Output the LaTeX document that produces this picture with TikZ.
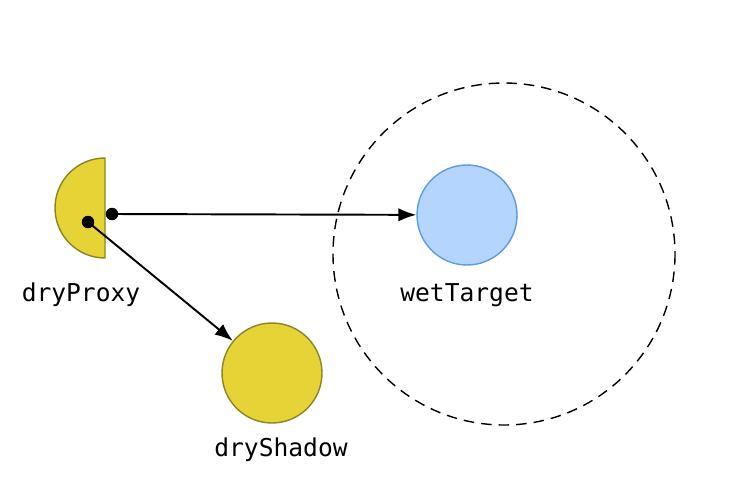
\documentclass[tikz,border=0pt]{standalone}
\usepackage{fontspec}
\setmonofont{DejaVu Sans Mono}
\usepackage{xcolor}
\usepackage{tikz}
\usetikzlibrary{positioning,arrows.meta}

\definecolor{dryfill}{HTML}{E6D335}
\definecolor{dryline}{HTML}{8C8526}
\definecolor{wetfill}{HTML}{B4D5FE}
\definecolor{wetline}{HTML}{5E9AEB}

\tikzset{
    dryball/.style={circle,draw=dryline,fill=dryfill,line width=0.8pt,minimum size=2cm,inner sep=0pt},
    wetball/.style={circle,draw=wetline,fill=wetfill,line width=0.8pt,minimum size=2cm,inner sep=0pt},
    pin/.style={circle,fill=black,minimum size=0.25cm,inner sep=0pt},
    tag/.style={font=\ttfamily\fontsize{14}{16}\selectfont},
    link/.style={-{Latex[length=0.36cm,width=0.27cm]},line width=1.1pt}
}

\begin{document}
\begin{tikzpicture}[x=0.02cm,y=-0.02cm]
    \useasboundingbox (0,0) rectangle (737,487);

    % Membrane
    \draw[line width=0.8pt,dash pattern=on 6pt off 4pt] (504,254) circle (171);

    % dryProxy
    \draw[draw=dryline,fill=dryfill,line width=0.8pt] (105,158) arc[start angle=270,end angle=90,radius=50] -- cycle;
    \node[tag] (proxylabel) at (81,295) {dryProxy};
    \node[pin] (inner) at (88,222) {};
    \node[pin] (outer) at (112,214) {};

    % wetTarget
    \node[wetball] (target) at (467,215) {};
    \node[tag] (targetlabel) at (467,295) {wetTarget};

    % dryShadow
    \node[dryball] (shadow) at (272,373) {};
    \node[tag] (shadowlabel) at (281,450) {dryShadow};

    % Links
    \draw[link] (outer.center) -- (target);
    \draw[link] (inner.center) -- (shadow);
\end{tikzpicture}
\end{document}
